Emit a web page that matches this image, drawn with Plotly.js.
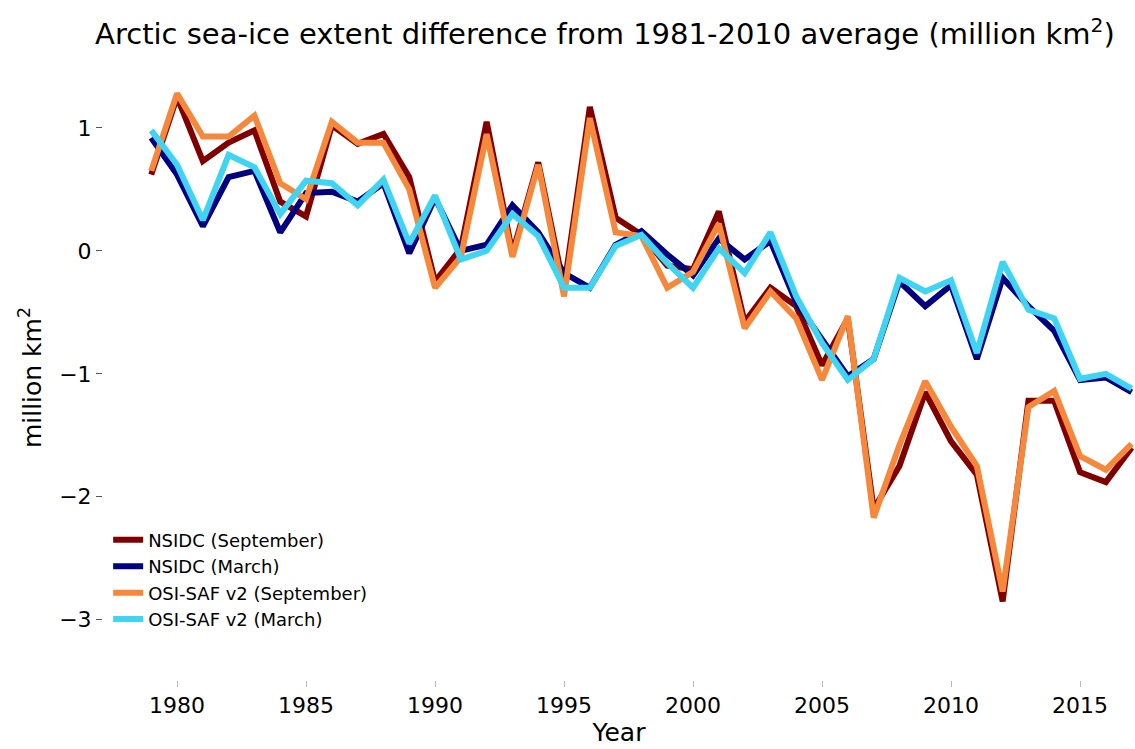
<!DOCTYPE html>
<html>
<head>
<meta charset="utf-8">
<script src="https://cdn.plot.ly/plotly-3.0.1.min.js"></script>
<style>body{margin:0;background:#fff}#chart{width:1135px;height:749px}</style>
</head>
<body>
<div id="chart"></div>
<script>
// years 1979-2017
const years = [];
for (let y = 1979; y <= 2017; y++) years.push(y);

const nsidcSep = [0.62, 1.25, 0.73, 0.88, 0.98, 0.40, 0.28, 1.02, 0.87, 0.95, 0.60, -0.25, 0.02, 1.05, -0.02, 0.72, -0.30, 1.17, 0.27, 0.13, -0.12, -0.15, 0.32, -0.58, -0.30, -0.45, -0.93, -0.55, -2.10, -1.75, -1.15, -1.55, -1.82, -2.85, -1.22, -1.22, -1.80, -1.88, -1.60];
const nsidcMar = [0.92, 0.62, 0.20, 0.60, 0.65, 0.15, 0.47, 0.48, 0.40, 0.55, -0.02, 0.43, 0.00, 0.05, 0.37, 0.15, -0.18, -0.30, 0.05, 0.16, -0.03, -0.20, 0.10, -0.07, 0.08, -0.42, -0.72, -1.02, -0.88, -0.25, -0.45, -0.28, -0.88, -0.22, -0.45, -0.65, -1.05, -1.03, -1.15];
const osiSep = [0.65, 1.28, 0.93, 0.93, 1.10, 0.55, 0.42, 1.05, 0.88, 0.88, 0.50, -0.30, -0.05, 0.95, -0.05, 0.70, -0.37, 1.08, 0.15, 0.12, -0.30, -0.17, 0.22, -0.63, -0.33, -0.55, -1.05, -0.53, -2.17, -1.58, -1.06, -1.43, -1.75, -2.77, -1.27, -1.14, -1.67, -1.78, -1.57];
const osiMar = [0.98, 0.70, 0.25, 0.78, 0.68, 0.30, 0.57, 0.55, 0.37, 0.58, 0.06, 0.45, -0.07, 0.00, 0.30, 0.12, -0.30, -0.30, 0.04, 0.13, -0.10, -0.30, 0.02, -0.18, 0.15, -0.37, -0.75, -1.05, -0.88, -0.22, -0.33, -0.24, -0.83, -0.09, -0.48, -0.55, -1.04, -1.00, -1.12];

const seriesNames = ['NSIDC (September)', 'NSIDC (March)', 'OSI-SAF v2 (September)', 'OSI-SAF v2 (March)'];
const seriesColors = ['#800000', '#000080', '#f5883a', '#3fd5f2'];
const seriesData = [nsidcSep, nsidcMar, osiSep, osiMar];

const traces = seriesData.map((vals, i) => ({
  x: years,
  y: vals,
  name: seriesNames[i],
  mode: 'lines',
  line: {color: seriesColors[i], width: 6}
}));

const font = {family: 'DejaVu Sans, sans-serif', color: '#000'};

const layout = {
  width: 1135, height: 749,
  margin: {l: 103, r: 0, t: 75, b: 69},
  paper_bgcolor: '#fff', plot_bgcolor: '#fff',
  font: font,
  showlegend: true,
  title: {text: 'Arctic sea-ice extent difference from 1981-2010 average (million km<sup>2</sup>)',
          font: {size: 29}, x: 0.533, xanchor: 'center', y: 0.968},
  xaxis: {
    range: [1977.13, 2017.13], showgrid: false, zeroline: false, showline: false,
    tickvals: [1980, 1985, 1990, 1995, 2000, 2005, 2010, 2015],
    ticks: 'outside', ticklen: 6, tickcolor: '#bbb',
    tickfont: {size: 22},
    title: {text: 'Year', font: {size: 25}, standoff: 2}
  },
  yaxis: {
    range: [-3.49, 1.43], showgrid: false, zeroline: false, showline: false,
    tickvals: [1, 0, -1, -2, -3], ticktext: ['1', '0', '\u22121', '\u22122', '\u22123'],
    ticks: 'outside', ticklen: 6, tickcolor: '#555',
    tickfont: {size: 22},
    title: {text: 'million km<sup>2</sup>', font: {size: 25}, standoff: 10}
  },
  legend: {x: 0.005, y: 0.07, xanchor: 'left', yanchor: 'bottom', bgcolor: 'rgba(0,0,0,0)',
           font: {size: 18}, tracegroupgap: 0}
};

Plotly.newPlot('chart', traces, layout, {staticPlot: true});
</script>
</body>
</html>
